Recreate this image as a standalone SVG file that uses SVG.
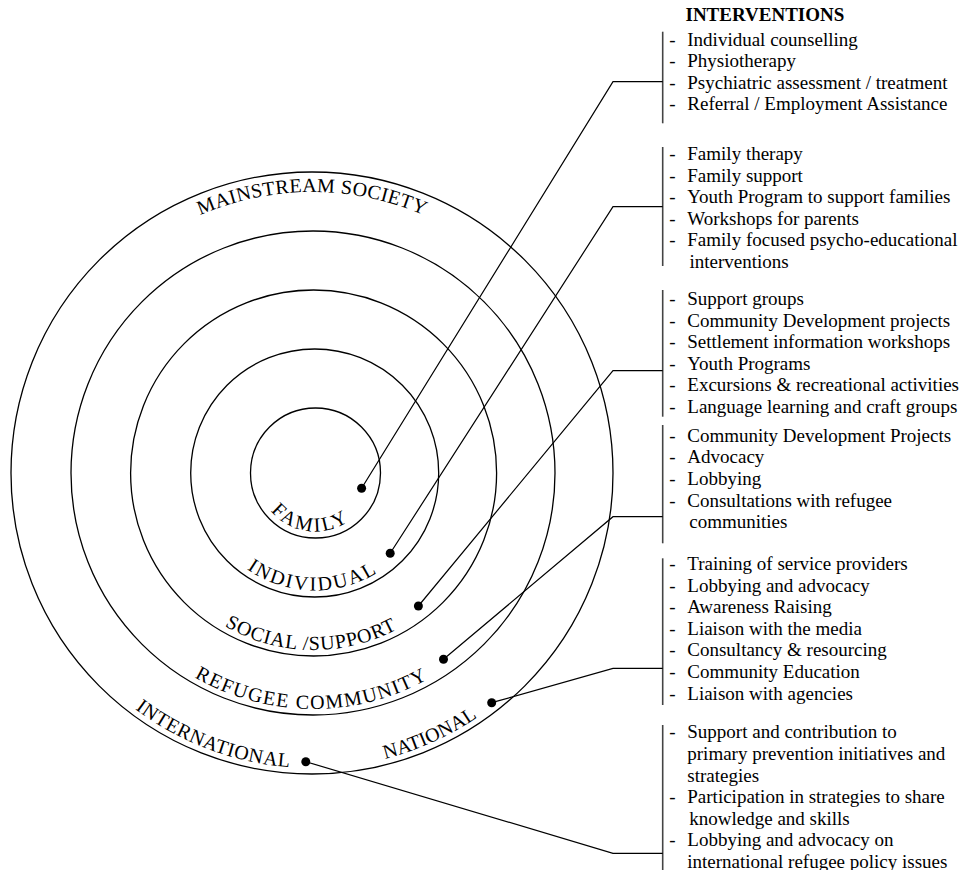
<svg xmlns="http://www.w3.org/2000/svg" width="969" height="870" viewBox="0 0 969 870">
<style>
.ring{fill:none;stroke:#000;stroke-width:1.3}
.lbl{font-family:"Liberation Serif","Times New Roman",serif;font-size:20px;fill:#000;text-anchor:middle}
.item{font-family:"Liberation Serif","Times New Roman",serif;font-size:19px;fill:#000}
.hdr{font-family:"Liberation Serif","Times New Roman",serif;font-size:19px;font-weight:bold;fill:#000}
.brk{stroke:#444;stroke-width:1.6}
.con{fill:none;stroke:#000;stroke-width:1.2}
.dot{fill:#000}
</style>
<defs>
<path id="pFam" d="M257,473 A58.5,58.5 0 0 0 374,473"/>
<path id="pInd" d="M197.2,473 A117.5,117.5 0 0 0 432.2,473"/>
<path id="pSoc" d="M136.6,473 A177,177 0 0 0 490.6,473"/>
<path id="pRef" d="M77,473 A236,236 0 0 0 549,473"/>
<path id="pOut" d="M17,473 A295,295 0 0 0 607,473"/>
<path id="pTop" d="M31,473 A281,281 0 0 1 593,473"/>
</defs>
<rect width="969" height="870" fill="#fff"/>

<g id="ring-mainstream">
<circle class="ring" cx="312" cy="473" r="301"/>
<text class="lbl" letter-spacing="0.35"><textPath href="#pTop" startOffset="441.4">MAINSTREAM SOCIETY</textPath></text>
<text class="lbl" letter-spacing="0.6"><textPath href="#pOut" startOffset="357.3">INTERNATIONAL</textPath></text>
<text class="lbl" letter-spacing="0.1"><textPath href="#pOut" startOffset="588">NATIONAL</textPath></text>
</g>
<g id="ring-refugee">
<circle class="ring" cx="313" cy="473" r="242"/>
<text class="lbl" letter-spacing="1.45"><textPath href="#pRef" startOffset="369">REFUGEE COMMUNITY</textPath></text>
</g>
<g id="ring-social">
<circle class="ring" cx="313.6" cy="473" r="183"/>
<text class="lbl" letter-spacing="0.8"><textPath href="#pSoc" startOffset="275">SOCIAL /SUPPORT</textPath></text>
</g>
<g id="ring-individual">
<circle class="ring" cx="314.7" cy="473" r="124"/>
<text class="lbl" letter-spacing="2.1"><textPath href="#pInd" startOffset="182">INDIVIDUAL</textPath></text>
</g>
<g id="ring-family">
<circle class="ring" cx="315.5" cy="473" r="65"/>
<text class="lbl" letter-spacing="2.5"><textPath href="#pFam" startOffset="85">FAMILY</textPath></text>
</g>

<g id="header">
<text class="hdr" x="685.5" y="21">INTERVENTIONS</text>
</g>

<g id="interventions-family">
<line class="brk" x1="662.7" y1="31.7" x2="662.7" y2="123.3"/>
<text class="item" x="669.3" y="45.5">- <tspan x="687.3">Individual counselling</tspan></text>
<text class="item" x="669.3" y="67">- <tspan x="687.3">Physiotherapy</tspan></text>
<text class="item" x="669.3" y="88.5">- <tspan x="687.3">Psychiatric assessment / treatment</tspan></text>
<text class="item" x="669.3" y="110">- <tspan x="687.3">Referral / Employment Assistance</tspan></text>
</g>

<g id="interventions-individual">
<line class="brk" x1="662.7" y1="147" x2="662.7" y2="266"/>
<text class="item" x="669.3" y="160">- <tspan x="687.3">Family therapy</tspan></text>
<text class="item" x="669.3" y="181.6">- <tspan x="687.3">Family support</tspan></text>
<text class="item" x="669.3" y="203.2">- <tspan x="687.3">Youth Program to support families</tspan></text>
<text class="item" x="669.3" y="224.8">- <tspan x="687.3">Workshops for parents</tspan></text>
<text class="item" x="669.3" y="246.4">- <tspan x="687.3">Family focused psycho-educational</tspan></text>
<text class="item" x="689.5" y="268">interventions</text>
</g>

<g id="interventions-social">
<line class="brk" x1="662.7" y1="290" x2="662.7" y2="416.7"/>
<text class="item" x="669.3" y="305">- <tspan x="687.3">Support groups</tspan></text>
<text class="item" x="669.3" y="326.6">- <tspan x="687.3">Community Development projects</tspan></text>
<text class="item" x="669.3" y="348.2">- <tspan x="687.3">Settlement information workshops</tspan></text>
<text class="item" x="669.3" y="369.8">- <tspan x="687.3">Youth Programs</tspan></text>
<text class="item" x="669.3" y="391.4">- <tspan x="687.3">Excursions &amp; recreational activities</tspan></text>
<text class="item" x="669.3" y="413">- <tspan x="687.3">Language learning and craft groups</tspan></text>
</g>

<g id="interventions-refugee">
<line class="brk" x1="662.7" y1="425" x2="662.7" y2="543.3"/>
<text class="item" x="669.3" y="441.7">- <tspan x="687.3">Community Development Projects</tspan></text>
<text class="item" x="669.3" y="463.3">- <tspan x="687.3">Advocacy</tspan></text>
<text class="item" x="669.3" y="484.9">- <tspan x="687.3">Lobbying</tspan></text>
<text class="item" x="669.3" y="506.5">- <tspan x="687.3">Consultations with refugee</tspan></text>
<text class="item" x="689.3" y="528.1">communities</text>
</g>

<g id="interventions-national">
<line class="brk" x1="662.7" y1="558.3" x2="662.7" y2="705"/>
<text class="item" x="669.3" y="570">- <tspan x="687.3">Training of service providers</tspan></text>
<text class="item" x="669.3" y="591.6">- <tspan x="687.3">Lobbying and advocacy</tspan></text>
<text class="item" x="669.3" y="613.2">- <tspan x="687.3">Awareness Raising</tspan></text>
<text class="item" x="669.3" y="634.8">- <tspan x="687.3">Liaison with the media</tspan></text>
<text class="item" x="669.3" y="656.4">- <tspan x="687.3">Consultancy &amp; resourcing</tspan></text>
<text class="item" x="669.3" y="678">- <tspan x="687.3">Community Education</tspan></text>
<text class="item" x="669.3" y="699.6">- <tspan x="687.3">Liaison with agencies</tspan></text>
</g>

<g id="interventions-international">
<line class="brk" x1="662.7" y1="725" x2="662.7" y2="870"/>
<text class="item" x="669.3" y="738.3">- <tspan x="687.3">Support and contribution to</tspan></text>
<text class="item" x="687.3" y="759.9">primary prevention initiatives and</text>
<text class="item" x="687.3" y="781.5">strategies</text>
<text class="item" x="669.3" y="803.1">- <tspan x="687.3">Participation in strategies to share</tspan></text>
<text class="item" x="689.3" y="824.7">knowledge and skills</text>
<text class="item" x="669.3" y="846.3">- <tspan x="687.3">Lobbying and advocacy on</tspan></text>
<text class="item" x="687.3" y="867.9">international refugee policy issues</text>
</g>

<g id="connectors">
<polyline class="con" points="361.6,488.3 613,81.7 662.7,81.7"/>
<polyline class="con" points="390.2,553.3 613,206.7 662.7,206.7"/>
<polyline class="con" points="418.4,606 613,370.7 662.7,370.7"/>
<polyline class="con" points="443.5,659.3 613,516.7 662.7,516.7"/>
<polyline class="con" points="491.7,702.7 613,668.3 662.7,668.3"/>
<polyline class="con" points="305.8,761.7 613,853.3 662.7,853.3"/>
<circle class="dot" cx="361.6" cy="488.3" r="4.5"/>
<circle class="dot" cx="390.2" cy="553.3" r="4.5"/>
<circle class="dot" cx="418.4" cy="606" r="4.5"/>
<circle class="dot" cx="443.5" cy="659.3" r="4.5"/>
<circle class="dot" cx="491.7" cy="702.7" r="4.5"/>
<circle class="dot" cx="305.8" cy="761.7" r="4.5"/>
</g>
</svg>
